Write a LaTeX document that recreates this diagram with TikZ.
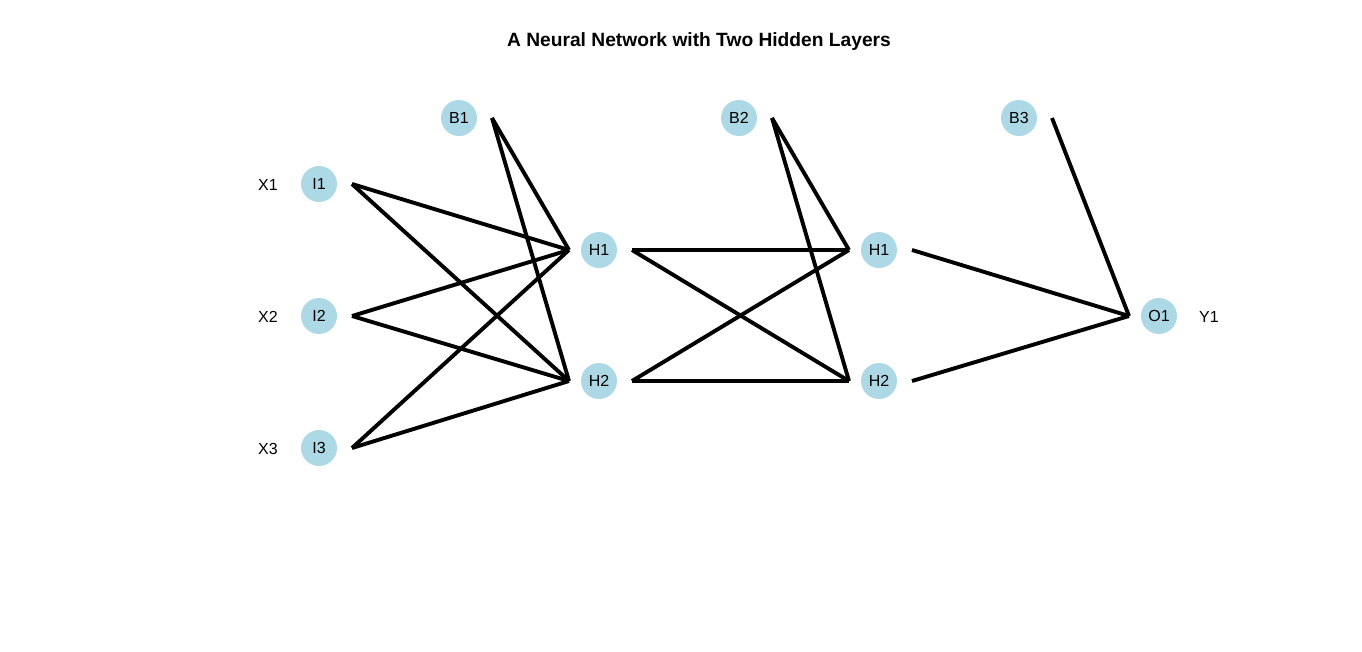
\documentclass[tikz,border=0pt]{standalone}
\usepackage{fontspec}
\setmainfont{Liberation Sans}
\definecolor{nodeblue}{RGB}{173,216,230}
\begin{document}
\begin{tikzpicture}[x=1pt,y=-1pt,
  neuron/.style={circle,fill=nodeblue,draw=none,minimum size=36pt,inner sep=0pt,font=\fontsize{16}{18}\selectfont},
  lbl/.style={font=\fontsize{16}{18}\selectfont,inner sep=0pt},
  wire/.style={line width=3.9pt,black}]
\useasboundingbox (0,0) rectangle (1362,651);
\node[font=\bfseries\fontsize{19.2}{21}\selectfont] (title) at (699,42) {A Neural Network with Two Hidden Layers};
% input layer
\node[lbl] (X1) at (268,185) {X1};
\node[lbl] (X2) at (268,317) {X2};
\node[lbl] (X3) at (268,449) {X3};
\node[neuron] (I1) at (319,184) {I1};
\node[neuron] (I2) at (319,316) {I2};
\node[neuron] (I3) at (319,448) {I3};
% hidden 1
\node[neuron] (B1) at (459,118) {B1};
\node[neuron] (H1) at (599,250) {H1};
\node[neuron] (H2) at (599,381) {H2};
% hidden 2
\node[neuron] (B2) at (739,118) {B2};
\node[neuron] (K1) at (879,250) {H1};
\node[neuron] (K2) at (879,381) {H2};
% output
\node[neuron] (B3) at (1019,118) {B3};
\node[neuron] (O1) at (1159,316) {O1};
\node[lbl] (Y1) at (1209,317) {Y1};
% connectors
\foreach \s in {I1,I2,I3,B1}{
  \foreach \t in {H1,H2}{
    \draw[wire] ([xshift=33pt]\s.center) -- ([xshift=-30pt]\t.center);
  }
}
\foreach \s in {H1,H2,B2}{
  \foreach \t in {K1,K2}{
    \draw[wire] ([xshift=33pt]\s.center) -- ([xshift=-30pt]\t.center);
  }
}
\foreach \s in {K1,K2,B3}{
  \draw[wire] ([xshift=33pt]\s.center) -- ([xshift=-30pt]O1.center);
}
\end{tikzpicture}
\end{document}
